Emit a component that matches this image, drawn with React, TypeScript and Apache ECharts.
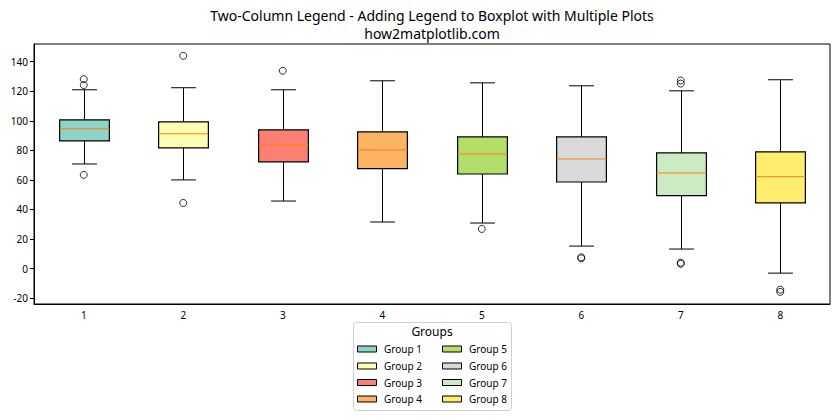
import React, { useEffect, useRef } from "react";
import * as echarts from "echarts";

const categories = ["1", "2", "3", "4", "5", "6", "7", "8"];
const groupNames = ["Group 1", "Group 2", "Group 3", "Group 4", "Group 5", "Group 6", "Group 7", "Group 8"];
const colors = ["#8dd3c7", "#ffffb3", "#fb8072", "#fdb462", "#b3de69", "#d9d9d9", "#ccebc5", "#ffed6f"];
const lowerWhisker = [70.8, 60.0, 45.7, 31.5, 30.8, 15.2, 13.2, -3.1];
const q1 = [86.4, 81.7, 72.2, 67.7, 64.0, 58.6, 49.4, 44.4];
const median = [94.6, 91.2, 83.7, 80.3, 77.6, 74.2, 64.7, 62.2];
const q3 = [100.7, 99.3, 93.9, 92.5, 89.1, 89.1, 78.3, 79.0];
const upperWhisker = [121.0, 122.4, 121.0, 127.1, 125.7, 123.7, 120.3, 127.8];
const outliers: number[][] = [
  [128.2, 124.2, 63.4],
  [144.0, 44.4],
  [133.9],
  [],
  [26.8],
  [6.9, 7.6],
  [127.3, 125.2, 3.2, 4.0],
  [-14.3, -15.8],
];
const yTicks = [-20, 0, 20, 40, 60, 80, 100, 120, 140];
const titleLines = ["Two-Column Legend - Adding Legend to Boxplot with Multiple Plots", "how2matplotlib.com"];
const legendTitle = "Groups";

const FONT = "Noto Sans";

export default function App() {
  const ref = useRef<HTMLDivElement>(null);
  useEffect(() => {
    if (!ref.current) return;
    const chart = echarts.init(ref.current, undefined, { renderer: "svg" });

    const boxData = categories.map((_, i) => [i, lowerWhisker[i], q1[i], median[i], q3[i], upperWhisker[i]]);
    const outlierData: number[][] = [];
    outliers.forEach((arr, i) => arr.forEach((v) => outlierData.push([i, v])));

    const renderItem = (params: any, api: any) => {
      const idx = api.value(0);
      const lo = api.coord([idx, api.value(1)]);
      const a = api.coord([idx, api.value(2)]);
      const m = api.coord([idx, api.value(3)]);
      const b = api.coord([idx, api.value(4)]);
      const hi = api.coord([idx, api.value(5)]);
      const band = api.size([1, 0])[0];
      const bw = band * 0.5;
      const cw = bw * 0.5;
      const x = Math.round(lo[0]) + 0.5;
      const stroke = { stroke: "#000", lineWidth: 1 };
      return {
        type: "group",
        children: [
          { type: "line", shape: { x1: x, y1: a[1], x2: x, y2: lo[1] }, style: stroke },
          { type: "line", shape: { x1: x, y1: b[1], x2: x, y2: hi[1] }, style: stroke },
          { type: "line", shape: { x1: x - cw / 2, y1: lo[1], x2: x + cw / 2, y2: lo[1] }, style: stroke },
          { type: "line", shape: { x1: x - cw / 2, y1: hi[1], x2: x + cw / 2, y2: hi[1] }, style: stroke },
          {
            type: "rect",
            shape: { x: x - bw / 2, y: b[1], width: bw, height: a[1] - b[1] },
            style: { fill: colors[idx], stroke: "#000", lineWidth: 1.2 },
          },
          {
            type: "line",
            shape: { x1: x - bw / 2, y1: m[1], x2: x + bw / 2, y2: m[1] },
            style: { stroke: "#ff7f0e", lineWidth: 1 },
          },
        ],
      };
    };

    const legendX = [357, 442];
    const legendTextX = [384, 469];
    const legendRowY = [349, 366, 382.5, 399];
    const legendChildren: any[] = [
      {
        type: "rect",
        shape: { x: 353.5, y: 322.5, width: 158, height: 88, r: 3 },
        style: { fill: "#fff", stroke: "#d0d0d0", lineWidth: 1 },
      },
      {
        type: "text",
        x: 432,
        y: 331,
        style: { text: legendTitle, fontSize: 12, fontFamily: FONT, fill: "#000", align: "center", verticalAlign: "middle" },
      },
    ];
    groupNames.forEach((name, i) => {
      const col = Math.floor(i / 4);
      const row = i % 4;
      legendChildren.push({
        type: "rect",
        shape: { x: legendX[col] + 0.5, y: legendRowY[row] - 3, width: 19, height: 6 },
        style: { fill: colors[i], stroke: "#000", lineWidth: 1 },
      });
      legendChildren.push({
        type: "text",
        x: legendTextX[col],
        y: legendRowY[row],
        style: { text: name, fontSize: 10, fontFamily: FONT, fill: "#000", align: "left", verticalAlign: "middle" },
      });
    });

    const titleChildren = titleLines.map((t, i) => ({
      type: "text",
      x: 432,
      y: 15 + i * 18,
      style: { text: t, fontSize: 14, fontFamily: FONT, fill: "#000", align: "center", verticalAlign: "middle" },
    }));

    chart.setOption({
      animation: false,
      textStyle: { fontFamily: FONT },
      grid: {
        left: 34,
        right: 10,
        top: 44,
        bottom: 116,
        show: true,
        borderColor: "#000",
        borderWidth: 1,
        backgroundColor: "transparent",
      },
      xAxis: {
        type: "category",
        data: categories,
        boundaryGap: true,
        axisLine: { onZero: false, lineStyle: { color: "#000" } },
        axisTick: { alignWithLabel: true, length: 4, lineStyle: { color: "#000" } },
        axisLabel: { color: "#000", fontSize: 10, margin: 6, fontFamily: FONT },
        splitLine: { show: false },
      },
      yAxis: {
        type: "value",
        min: -24,
        max: 152,
        axisLine: { show: true, onZero: false, lineStyle: { color: "#000" } },
        axisTick: { show: true, length: 4, lineStyle: { color: "#000" }, customValues: yTicks },
        axisLabel: { color: "#000", fontSize: 10, margin: 6, fontFamily: FONT, customValues: yTicks },
        splitLine: { show: false },
      },
      series: [
        {
          type: "custom",
          renderItem,
          data: boxData,
          encode: { x: 0, y: [1, 2, 3, 4, 5] },
          z: 2,
        },
        {
          type: "scatter",
          data: outlierData,
          symbol: "circle",
          symbolSize: 7,
          itemStyle: { color: "rgba(0,0,0,0)", borderColor: "#000", borderWidth: 1 },
          z: 3,
        },
      ],
      graphic: [
        { type: "group", children: titleChildren },
        { type: "group", children: legendChildren },
      ],
    });
    return () => chart.dispose();
  }, []);
  return <div ref={ref} style={{ position: "absolute", left: 0, top: 0, width: 840, height: 420 }} />;
}
